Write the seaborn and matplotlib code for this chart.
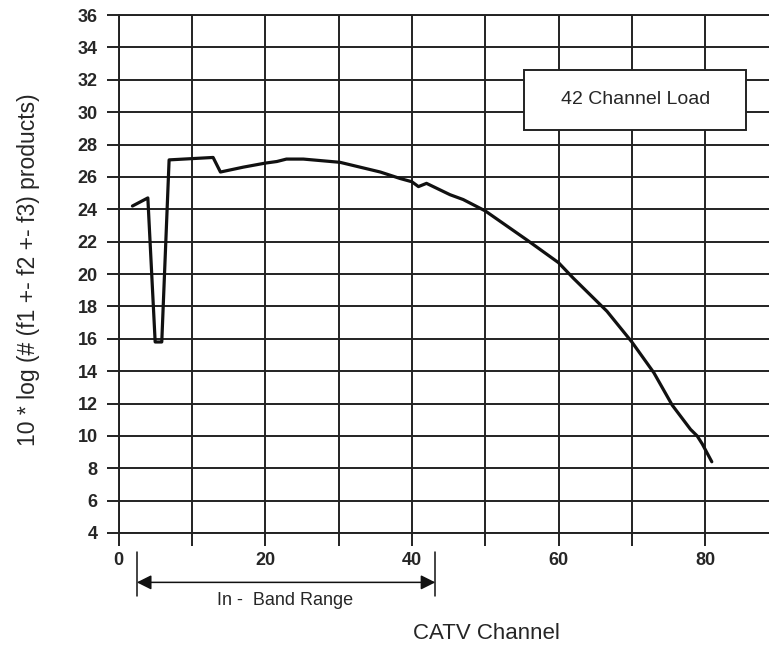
import matplotlib
matplotlib.use("Agg")
import matplotlib.pyplot as plt
import matplotlib.patches as mpatches
import seaborn as sns
import pandas as pd

# ---- data ----
channel = [1.9, 4.0, 5.0, 5.9, 6.9, 12.9, 13.9, 17.0, 20.0, 21.6, 22.9, 25.2,
           30.2, 35.7, 38.4, 40.0, 40.9, 42.0, 45.2, 47.0, 50.0, 55.7, 60.0,
           62.0, 66.6, 70.0, 73.0, 75.5, 78.0, 78.9, 79.6, 80.9]
products_db = [24.2, 24.7, 15.8, 15.8, 27.05, 27.2, 26.3, 26.6, 26.85, 26.95, 27.1, 27.1,
               26.9, 26.3, 25.9, 25.7, 25.4, 25.6, 24.9, 24.6, 23.9, 22.1, 20.7,
               19.75, 17.7, 15.8, 13.9, 11.9, 10.4, 10.0, 9.5, 8.4]
x_ticks = [0, 10, 20, 30, 40, 50, 60, 70, 80]
x_tick_labels = ["0", "", "20", "", "40", "", "60", "", "80"]
y_ticks = list(range(4, 37, 2))
band_start, band_end = 2.5, 43.2
legend_text = "42 Channel Load"
band_text = "In -  Band Range"

df = pd.DataFrame({"channel": channel, "db": products_db})

sns.set_style("white")
plt.rcParams["font.family"] = ["Liberation Sans", "DejaVu Sans"]

fig = plt.figure(figsize=(7.69, 6.47), dpi=100)
ax = fig.add_axes([0.1541, 0.1762, 0.8459, 0.8006])

sns.lineplot(data=df, x="channel", y="db", ax=ax, color="#111111", lw=2.3,
             sort=False, estimator=None, zorder=5)

ax.set_xlim(0, 88.7)
ax.set_ylim(4, 36)
ax.set_xticks(x_ticks)
ax.set_xticklabels(x_tick_labels, fontweight="bold", fontsize=13)
ax.set_yticks(y_ticks)
ax.set_yticklabels([str(v) for v in y_ticks], fontweight="bold", fontsize=13)
ax.grid(True, color="#222222", lw=1.4)
ax.tick_params(axis="both", direction="out", length=9, width=1.4, color="#222222",
               left=True, bottom=True)
ax.tick_params(axis="y", pad=6)
ax.tick_params(axis="x", pad=5)
for s in ["left", "top", "bottom"]:
    ax.spines[s].set_color("#222222")
    ax.spines[s].set_linewidth(1.4)
ax.spines["right"].set_visible(False)

ax.set_xlabel("")
ax.set_ylabel("10 * log (# (f1 +- f2 +- f3) products)", fontsize=16.5)
ax.yaxis.set_label_coords(-0.1205, 0.509)
fig.text(0.632, 0.005, "CATV Channel", fontsize=16, ha="center", va="bottom")

# legend-like box
ax.add_patch(mpatches.Rectangle((55.3, 28.9), 30.3, 3.7, fc="white", ec="#222222",
                                lw=1.4, zorder=10))
ax.text(70.45, 30.75, legend_text, fontsize=14, ha="center", va="center", zorder=11)

# In-band range annotation below the axis
ax.annotate("", xy=(band_end, 0.95), xytext=(band_start, 0.95),
            xycoords="data", textcoords="data", annotation_clip=False,
            arrowprops=dict(arrowstyle="<|-|>", color="#111111", lw=1.1,
                            mutation_scale=22, shrinkA=0, shrinkB=0))
for bx in (band_start, band_end):
    ax.plot([bx, bx], [2.85, 0.1], color="#111111", lw=1.1, clip_on=False)
ax.text((band_start + band_end) / 2 - 0.2, 0.35, band_text, fontsize=13,
        ha="center", va="top", clip_on=False)

fig.savefig("out.png", dpi=100)
